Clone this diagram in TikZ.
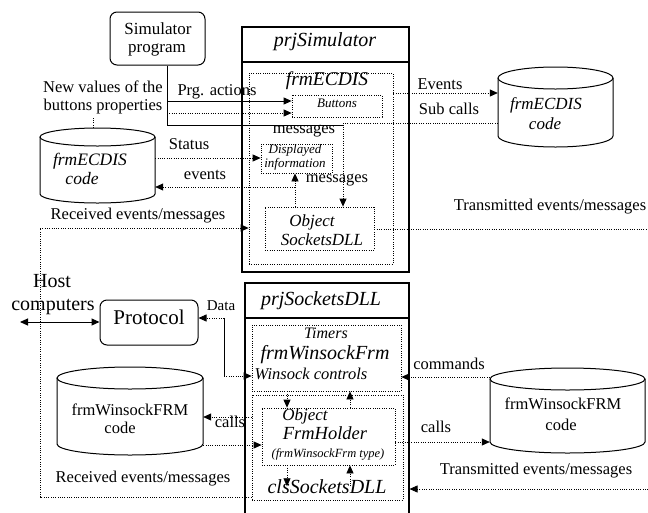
\documentclass[tikz,border=0pt]{standalone}
\usepackage{fontspec}
\setmainfont{Liberation Serif}
\usetikzlibrary{arrows.meta}

\newcommand\fsz[2]{\fontsize{#1}{#2}\selectfont}

% Cylinder ("drum") drawn from its centre x, radius x, top y, bottom y and ellipse radius y;
% an invisible node of the same extent carries the name for the connectors.
\newcommand\drum[6]{%
  \draw[line width=1pt] (#2-#3,#4+#6) -- (#2-#3,#5-#6)
    .. controls (#2-#3,#5-#6+0.5523*#6) and (#2-0.5523*#3,#5) .. (#2,#5)
    .. controls (#2+0.5523*#3,#5) and (#2+#3,#5-#6+0.5523*#6) .. (#2+#3,#5-#6)
    -- (#2+#3,#4+#6);
  \draw[line width=1pt] (#2,#4+#6) ellipse [x radius=#3, y radius=#6];
  \node[inner sep=0pt, minimum width=2*#3 pt, minimum height=#5-#4 pt] (#1) at (#2,#4/2+#5/2) {};
}

\tikzset{
  solidline/.style={line width=1pt},
  dotline/.style={line width=0.75pt, dash pattern=on 0.9pt off 1.4pt},
  tip/.style={-{Triangle[length=8pt,width=7pt]}},
  bothtips/.style={{Triangle[length=8pt,width=7pt]}-{Triangle[length=8pt,width=7pt]}},
  frame/.style={draw, line width=1.1pt, inner sep=0pt},
  roundbox/.style={draw, line width=1pt, rounded corners=7pt, inner sep=0pt},
  dotbox/.style={draw, dotline, inner sep=0pt},
  lbl/.style={inner sep=0pt, text height=0.7em, text depth=0.2em, font=\fsz{16.5}{19}},
  ital/.style={inner sep=0pt, text height=0.7em, text depth=0.2em, font=\itshape\fsz{16.5}{19}},
}

\begin{document}
\begin{tikzpicture}[x=1pt, y=-1pt]
\useasboundingbox (0,0) rectangle (648,512);

% ---------- upper project ----------
\node[roundbox, minimum width=95pt, minimum height=53pt] (sim) at (157.5,38.5) {};
\node[lbl, font=\fsz{17}{19}] (simA) at (158,32) {Simulator};
\node[lbl, font=\fsz{17}{19}] (simB) at (157,50) {program};

\node[frame, minimum width=167pt, minimum height=245pt] (prjsim) at (325.5,149.5) {};
\coordinate (simsep) at (0,62);
\draw[line width=1.1pt] (prjsim.west |- simsep) -- (prjsim.east |- simsep);
\node[ital, font=\itshape\fsz{20}{22}] (simtitle) at (325,44) {prjSimulator};

\node[dotbox, minimum width=144pt, minimum height=191pt] (frmecdis) at (321,168.5) {};
\node[ital, font=\itshape\fsz{19.5}{22}] (frmtxt) at (327,83) {frmECDIS};
\node[dotbox, minimum width=90pt, minimum height=22pt] (buttons) at (337,106) {};
\node[ital, font=\itshape\fsz{13}{15}] (btntxt) at (337,105) {Buttons};
\node[dotbox, minimum width=71pt, minimum height=29pt] (disp) at (296.5,158.5) {};
\node[ital, font=\itshape\fsz{13}{15}] (dispA) at (295,151) {Displayed};
\node[ital, font=\itshape\fsz{13}{15}] (dispB) at (295,165) {information};
\node[dotbox, minimum width=109pt, minimum height=43pt] (objsock) at (319.5,228.5) {};
\node[ital, font=\itshape\fsz{17}{19}] (objA) at (312,224) {Object};
\node[ital, font=\itshape\fsz{17}{19}] (objB) at (322,243) {SocketsDLL};

\drum{cylA}{97.5}{57.5}{128}{203}{9}
\node[ital, font=\itshape\fsz{17.5}{19}] (cylAa) at (90,163) {frmECDIS};
\node[ital, font=\itshape\fsz{17.5}{19}] (cylAb) at (82,182) {code};

\drum{cylB}{555.5}{57.5}{67}{147}{11}
\node[ital, font=\itshape\fsz{17}{19}] (cylBa) at (546,107) {frmECDIS};
\node[ital, font=\itshape\fsz{17}{19}] (cylBb) at (545,127) {code};

% ---------- lower project ----------
\node[roundbox, minimum width=98pt, minimum height=45pt] (proto) at (149,322.5) {};
\node[lbl, font=\fsz{21}{23}] (prototxt) at (149,322) {Protocol};
\node[lbl, font=\fsz{20}{22}] (hostA) at (52,285) {Host};
\node[lbl, font=\fsz{20}{22}] (hostB) at (53,308) {computers};

\node[frame, minimum width=164pt, minimum height=247pt] (prjsock) at (327,406.5) {};
\coordinate (socksep) at (0,318);
\draw[line width=1.1pt] (prjsock.west |- socksep) -- (prjsock.east |- socksep);
\node[ital, font=\itshape\fsz{20}{22}] (socktitle) at (321,303) {prjSocketsDLL};

\node[dotbox, minimum width=149pt, minimum height=66pt] (timers) at (326.5,358) {};
\node[ital, font=\itshape\fsz{16}{18}] (timA) at (326,336) {Timers};
\node[ital, font=\itshape\fsz{20}{22}] (timB) at (325,357) {frmWinsockFrm};
\node[ital, font=\itshape\fsz{16.5}{18}] (timC) at (311,377) {Winsock controls};

\node[dotbox, minimum width=151pt, minimum height=105pt] (lowerbox) at (327.5,447.5) {};
\node[dotbox, minimum width=133pt, minimum height=57pt] (holder) at (328.5,436.5) {};
\node[ital, font=\itshape\fsz{17}{19}] (holdA) at (305,418) {Object};
\node[ital, font=\itshape\fsz{18.5}{20}] (holdB) at (325,437) {FrmHolder};
\node[ital, font=\itshape\fsz{12.5}{14}] (holdC) at (328,455) {(frmWinsockFrm type)};
\node[ital, font=\itshape\fsz{20}{22}] (cls) at (327,491) {clsSocketsDLL};

\drum{cylC}{130}{73}{367}{455}{11}
\node[lbl, font=\fsz{16.5}{19}] (cylCa) at (130,413) {frmWinsockFRM};
\node[lbl, font=\fsz{16.5}{19}] (cylCb) at (120,431) {code};

\drum{cylD}{567.5}{77.5}{368}{453}{11}
\node[lbl, font=\fsz{16.5}{19}] (cylDa) at (563,407) {frmWinsockFRM};
\node[lbl, font=\fsz{16.5}{19}] (cylDb) at (561,428) {code};

% ---------- connectors, upper part ----------
\coordinate (sbend) at (167,125);
\coordinate (sjoin) at (343,125);
\draw[solidline] (sim.south -| sbend) -- (sbend) -- (sjoin);
\coordinate (pa) at (167,101);
\draw[solidline, tip] (pa) -- (pa -| buttons.west);
\coordinate (nv) at (167,113);
\draw[dotline, tip] (nv) -- (nv -| buttons.west);
\coordinate (nvlab) at (93,118);
\draw[dotline] (cylA.north -| nvlab) -- (nvlab);

\coordinate (ev) at (0,93);
\draw[dotline, tip] (frmecdis.east |- ev) -- (cylB.west |- ev);
\coordinate (sc) at (343,123);
\draw[dotline, tip] (cylB.west |- sc) -- (sc) -- (sc |- objsock.north);

\coordinate (st) at (0,158);
\draw[dotline, tip] (cylA.east |- st) -- (disp.west |- st);
\coordinate (evb) at (295,187);
\draw[dotline, tip] (evb) -- (evb -| cylA.east);
\draw[dotline, tip] (objsock.north -| evb) -- (disp.south -| evb);

\coordinate (rtop) at (40,228);
\coordinate (rbot) at (40,497);
\draw[dotline, tip] (lowerbox.west |- rbot) -- (rbot) -- (rtop) -- (rtop -| frmecdis.west);
\coordinate (ttop) at (648,229);
\draw[dotline] (objsock.east |- ttop) -- (ttop);
\coordinate (tbot) at (648,489);
\draw[dotline, tip] (tbot) -- (tbot -| prjsock.east);

% ---------- connectors, lower part ----------
\coordinate (host) at (20,322);
\draw[solidline, bothtips] (host) -- (host -| proto.west);

\coordinate (dtop) at (224,318);
\coordinate (dbot) at (224,376);
\draw[dotline, tip] (dtop) -- (dtop -| proto.east);
\draw[solidline] (dtop) -- (dbot);
\draw[dotline, tip] (dbot) -- (dbot -| timers.west);

\coordinate (cm) at (0,377);
\draw[dotline, tip] (cylD.west |- cm) -- (cm -| timers.east);

\coordinate (cl) at (287,0);
\coordinate (cr) at (350,0);
\draw[dotline, tip] (timers.south -| cl) -- (holder.north -| cl);
\draw[dotline, tip] (holder.north -| cr) -- (timers.south -| cr);
\draw[dotline, tip] (holder.south -| cl) -- (cls.north -| cl);
\draw[dotline, tip] (cls.north -| cr) -- (holder.south -| cr);

\coordinate (cll) at (0,417);
\draw[dotline, tip] (lowerbox.west |- cll) -- (cylC.east |- cll);
\coordinate (clr) at (0,445);
\draw[dotline, tip] (cylC.east |- clr) -- (holder.west |- clr);
\coordinate (crr) at (0,442);
\draw[dotline, tip] (holder.east |- crr) -- (cylD.west |- crr);

% ---------- connector labels ----------
\node[lbl] (lnvA) at (103,90) {New values of the};
\node[lbl] (lnvB) at (103,108) {buttons properties};
\node[lbl] (lpa) at (217,93) {Prg. actions};
\node[lbl] (lmsgA) at (304,131) {messages};
\node[lbl] (lstat) at (189,147) {Status};
\node[lbl] (levts) at (205,177) {events};
\node[lbl] (lmsgB) at (337,180) {messages};
\node[lbl] (lrecA) at (138,217) {Received events/messages};
\node[lbl] (lEv) at (440,87) {Events};
\node[lbl] (lsub) at (449,112) {Sub calls};
\node[lbl] (ltrA) at (550,208) {Transmitted events/messages};
\node[lbl, font=\fsz{15}{17}] (ldata) at (221,308) {Data};
\node[lbl] (lcmd) at (449,367) {commands};
\node[lbl] (lcallL) at (230,425) {calls};
\node[lbl] (lcallR) at (436,430) {calls};
\node[lbl] (ltrB) at (536,472) {Transmitted events/messages};
\node[lbl] (lrecB) at (143,480) {Received events/messages};
\end{tikzpicture}
\end{document}
